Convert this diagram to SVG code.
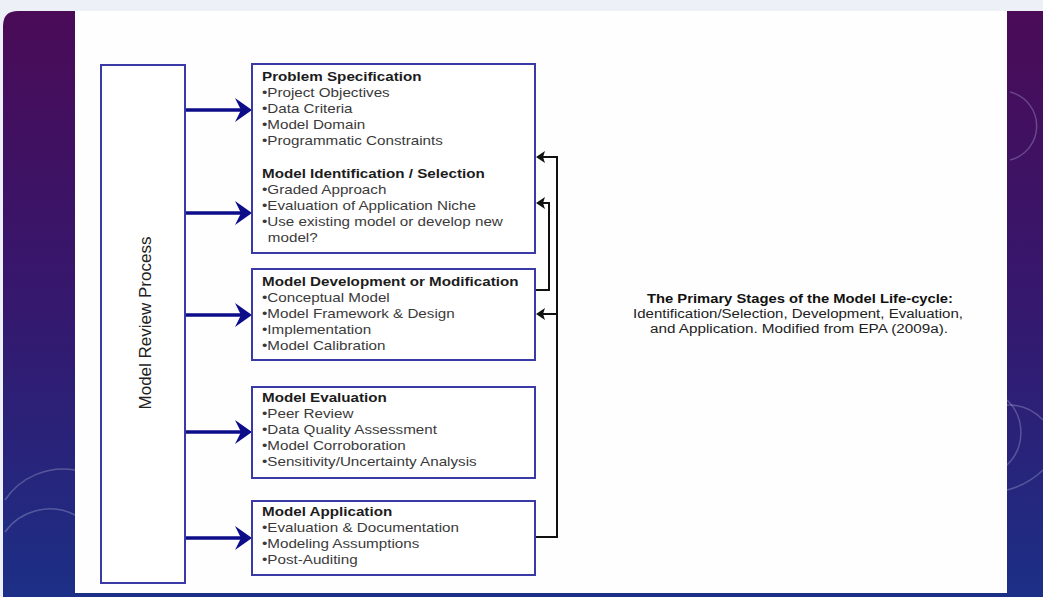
<svg xmlns="http://www.w3.org/2000/svg" width="1043" height="597" viewBox="0 0 1043 597">
  <defs>
    <linearGradient id="bg" x1="0" y1="0" x2="0" y2="1">
      <stop offset="0" stop-color="#4a0b57"/>
      <stop offset="0.5" stop-color="#35186e"/>
      <stop offset="1" stop-color="#1c2f86"/>
    </linearGradient>
    <style>
      .box { fill: #ffffff; stroke: #3a3aa6; stroke-width: 2; }
      .t { font-family: "Liberation Sans", Arial, sans-serif; font-size: 13px; }
      .h { font-weight: bold; fill: #1c1c1c; }
      .i { fill: #3a3a3a; }
      .side { font-family: "Liberation Sans", Arial, sans-serif; font-size: 17px; fill: #222222; text-anchor: middle; }
      .flow { stroke: #0d0d8a; stroke-width: 3.5; fill: none; }
      .head { fill: #0d0d8a; }
      .fb { stroke: #111111; stroke-width: 2; fill: none; }
      .fbhead { fill: #111111; }
      .deco { stroke: #c8c8e8; stroke-opacity: 0.3; stroke-width: 1.5; fill: none; }
      .cap { font-family: "Liberation Sans", Arial, sans-serif; font-size: 12px; text-anchor: middle; }
    </style>
  </defs>

  <!-- page backdrop -->
  <rect x="0" y="0" width="1043" height="597" fill="#eef0f8"/>
  <path d="M3 26 Q3 11 18 11 L1043 11 L1043 597 L3 597 Z" fill="url(#bg)"/>
  <!-- faint ornament arcs on the side panels -->
  <path class="deco" d="M5 500 A70 70 0 0 1 75 470"/>
  <path class="deco" d="M5 532 A55 55 0 0 1 75 515"/>
  <path class="deco" d="M1010 92 A35 35 0 0 1 1010 160"/>
  <path class="deco" d="M1007 400 A45 45 0 0 1 1007 465"/>
  <path class="deco" d="M1007 405 A48 48 0 0 1 1043 420"/>
  <path class="deco" d="M1007 490 A80 80 0 0 0 1043 470"/>
  <!-- white sheet -->
  <rect x="75" y="11" width="932" height="582" fill="#fefefe"/>

  <!-- connectors -->
  <g id="connectors">
    <line class="flow" x1="185" y1="110" x2="241" y2="110"/>
    <polygon class="head" points="252,110 235,98 241,110 235,122"/>
    <line class="flow" x1="185" y1="213" x2="241" y2="213"/>
    <polygon class="head" points="252,213 235,201 241,213 235,225"/>
    <line class="flow" x1="185" y1="315" x2="241" y2="315"/>
    <polygon class="head" points="252,315 235,303 241,315 235,327"/>
    <line class="flow" x1="185" y1="432" x2="241" y2="432"/>
    <polygon class="head" points="252,432 235,420 241,432 235,444"/>
    <line class="flow" x1="185" y1="538" x2="241" y2="538"/>
    <polygon class="head" points="252,538 235,526 241,538 235,550"/>

    <!-- feedback: development back to identification -->
    <polyline class="fb" points="535,290 549,290 549,203 542,203"/>
    <polygon class="fbhead" points="536,203 545,197 543,203 545,209"/>
    <!-- feedback: application back to specification and development -->
    <polyline class="fb" points="535,537 557,537 557,157 542,157"/>
    <polygon class="fbhead" points="536,157 545,151 543,157 545,163"/>
    <line class="fb" x1="557" y1="314" x2="542" y2="314"/>
    <polygon class="fbhead" points="536,314 545,308 543,314 545,320"/>
  </g>

  <g id="review">
    <rect class="box" x="101" y="65" width="84" height="518"/>
    <text class="side" transform="translate(151 323) rotate(-90)">Model Review Process</text>
  </g>

  <g id="specification">
    <rect class="box" x="252" y="64" width="283" height="189"/>
    <g transform="translate(262 0) scale(1.17 1)">
      <text class="t h" x="0" y="81">Problem Specification</text>
      <text class="t i" x="0" y="97">•Project Objectives</text>
      <text class="t i" x="0" y="113">•Data Criteria</text>
      <text class="t i" x="0" y="129">•Model Domain</text>
      <text class="t i" x="0" y="145">•Programmatic Constraints</text>
      <text class="t h" x="0" y="178">Model Identification / Selection</text>
      <text class="t i" x="0" y="194">•Graded Approach</text>
      <text class="t i" x="0" y="210">•Evaluation of Application Niche</text>
      <text class="t i" x="0" y="226">•Use existing model or develop new</text>
      <text class="t i" x="5" y="242">model?</text>
    </g>
  </g>

  <g id="development">
    <rect class="box" x="252" y="269" width="283" height="91"/>
    <g transform="translate(262 0) scale(1.17 1)">
      <text class="t h" x="0" y="286">Model Development or Modification</text>
      <text class="t i" x="0" y="302">•Conceptual Model</text>
      <text class="t i" x="0" y="318">•Model Framework &amp; Design</text>
      <text class="t i" x="0" y="334">•Implementation</text>
      <text class="t i" x="0" y="350">•Model Calibration</text>
    </g>
  </g>

  <g id="evaluation">
    <rect class="box" x="252" y="387" width="283" height="91"/>
    <g transform="translate(262 0) scale(1.17 1)">
      <text class="t h" x="0" y="402">Model Evaluation</text>
      <text class="t i" x="0" y="418">•Peer Review</text>
      <text class="t i" x="0" y="434">•Data Quality Assessment</text>
      <text class="t i" x="0" y="450">•Model Corroboration</text>
      <text class="t i" x="0" y="466">•Sensitivity/Uncertainty Analysis</text>
    </g>
  </g>

  <g id="application">
    <rect class="box" x="252" y="501" width="283" height="74"/>
    <g transform="translate(262 0) scale(1.17 1)">
      <text class="t h" x="0" y="516">Model Application</text>
      <text class="t i" x="0" y="532">•Evaluation &amp; Documentation</text>
      <text class="t i" x="0" y="548">•Modeling Assumptions</text>
      <text class="t i" x="0" y="564">•Post-Auditing</text>
    </g>
  </g>

  <g id="caption">
    <text class="cap" x="800" y="303" font-weight="bold" fill="#111111" textLength="306" lengthAdjust="spacingAndGlyphs">The Primary Stages of the Model Life-cycle:</text>
    <text class="cap" x="798" y="318" fill="#222222" textLength="330" lengthAdjust="spacingAndGlyphs">Identification/Selection, Development, Evaluation,</text>
    <text class="cap" x="799" y="333" fill="#222222" textLength="298" lengthAdjust="spacingAndGlyphs">and Application. Modified from EPA (2009a).</text>
  </g>
</svg>
